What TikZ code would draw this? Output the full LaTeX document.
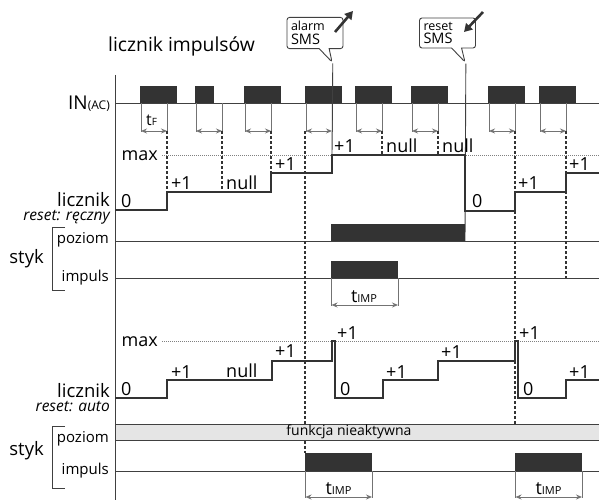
\documentclass[tikz,border=0pt]{standalone}
\usepackage{fontspec}
\setmainfont{Open Sans}
\usetikzlibrary{arrows.meta, shapes.callouts}

\begin{document}
\begin{tikzpicture}[
  x=1pt,
  y=-1pt,
  fs/.style={font=\fontsize{#1}{#1}\selectfont},
  os/.style={line width=0.9pt, draw=black!75},
  puls/.style={fill=black!80},
  licz/.style={line width=2.4pt, draw=black!80, line join=miter},
  kresk/.style={line width=1.1pt, draw=black!80, dash pattern=on 2.5pt off 2.5pt},
  maxlin/.style={line width=0.6pt, draw=black!50, dash pattern=on 1pt off 1pt},
  miara/.style={line width=0.9pt, draw=black!55},
  strz/.style={miara, {Stealth[length=6pt, width=5pt]}-{Stealth[length=6pt, width=5pt]}},
  etyk/.style={fs=18, inner sep=0pt, anchor=base west},
  opis/.style={inner sep=0pt, anchor=base east},
  sms/.style={rectangle callout, draw=black!75, line width=0.9pt, rounded corners=2.5pt,
    minimum width=56pt, minimum height=30pt, text width=48pt, inner sep=4pt,
    align=left, callout pointer width=10pt, font=\fontsize{14.5}{13.5}\selectfont},
  smsarr/.style={line width=2.6pt, draw=black!80, -{Triangle[length=8pt, width=9pt]}},
]
\useasboundingbox (0,0) rectangle (599,500);

% tytul
\node[fs=19.3, anchor=base west, inner sep=0pt] (tytul) at (108,52) {licznik impulsów};

% os czasu i linie sygnalow
\draw[os] (115,75) -- (115,500);
\draw[os] (115,103) -- (599,103);
\draw[os] (115,241) -- (599,241);
\draw[os] (115,278) -- (599,278);
\draw[os] (115,471) -- (599,471);

% wejscie IN(AC)
\foreach \a/\b in {140/177,195/214,244/281,305/342,355/392,411/448,488/525,539/576}
  \fill[puls] (\a,86) rectangle (\b,103);
\foreach \a in {140,195,244,305,355,411,488,539} {
  \draw[miara] (\a+1,103) -- (\a+1,132) (\a+27,103) -- (\a+27,132);
  \draw[strz] (\a+1,131) -- (\a+27,131);
}
\node[fs=16, anchor=base west, inner sep=0pt] (tf) at (146,125) {t{\fontsize{10}{10}\selectfont F}};

% linie pomocnicze
\foreach \x/\k in {167/192,222/192,271/173,305/453,382/155,438/155,515/424,566/278}
  \draw[kresk] (\x,131) -- (\x,\k);

% SMS
\node[sms, callout absolute pointer={(332,62)}] (alarm) at (315,33)
  {{\fontsize{12.5}{12.5}\selectfont alarm}\\SMS};
\node[sms, callout absolute pointer={(465,62)}] (reset) at (447.5,33)
  {{\fontsize{12.5}{12.5}\selectfont reset}\\SMS};
\draw[smsarr] (335,32) -- (353,11);
\draw[smsarr] (483,12) -- (464,32);
\draw[os] (alarm.pointer) -- (332,155);
\draw[os] (reset.pointer) -- (465,241);

% licznik, reset reczny
\draw[maxlin] (162,155) -- (599,155);
\draw[licz] (115,210) -- (167,210) -- (167,192) -- (271,192) -- (271,173) -- (332,173)
  -- (332,155) -- (465,155) -- (465,211) -- (515,211) -- (515,192) -- (566,192)
  -- (566,173) -- (599,173);
\node[etyk, anchor=base east] (maxA) at (158,160) {max};
\foreach \x/\y/\t [count=\i] in {121/207/0, 171/189/+1, 226/189/null, 275/170/+1,
    334/152/+1, 386/152/null, 442/152/null, 472/207/0, 518/189/+1, 569/170/+1}
  \node[etyk] (gA\i) at (\x,\y) {\t};

% styk, reset reczny
\fill[puls] (331,224) rectangle (465,241);
\fill[puls] (331,261) rectangle (398,278);
\draw[miara] (331.5,278) -- (331.5,306) (398,278) -- (398,306);
\draw[strz] (331.5,305) -- (398,305);
\node[fs=18, anchor=base, inner sep=0pt] (timpA) at (364,302) {t{\fontsize{11}{11}\selectfont IMP}};

% licznik, reset auto
\draw[maxlin] (162,341) -- (599,341);
\draw[licz] (115,398) -- (167,398) -- (167,380) -- (272,380) -- (272,361) -- (332,361)
  -- (332,341) -- (335,341) -- (335,398) -- (383,398) -- (383,380) -- (438,380)
  -- (438,361) -- (515,361) -- (515,341) -- (518,341) -- (518,398) -- (566,398)
  -- (566,380) -- (599,380);
\node[etyk, anchor=base east] (maxB) at (158,346) {max};
\foreach \x/\y/\t [count=\i] in {121/395/0, 171/378/+1, 226/377/null, 275/357/+1,
    337/339/+1, 340/395/0, 386/378/+1, 441/358/+1, 519/339/+1, 523/395/0, 569/378/+1}
  \node[etyk] (gB\i) at (\x,\y) {\t};

% styk, reset auto
\draw[os, fill=black!10] (115,424) rectangle (599,440);
\node[fs=14, inner sep=0pt] (nieakt) at (349,432) {funkcja nieaktywna};
\foreach \a/\b in {305/372,515/582} {
  \fill[puls] (\a,453) rectangle (\b,471);
  \draw[miara] (\a+0.5,471) -- (\a+0.5,498) (\b,471) -- (\b,498);
  \draw[strz] (\a+0.5,497) -- (\b,497);
  \node[fs=18, anchor=base, inner sep=0pt] at ({(\a+\b)/2},494) {t{\fontsize{11}{11}\selectfont IMP}};
}

% opisy z lewej
\node[opis, fs=19] (in) at (110,110) {IN{\fontsize{12}{12}\selectfont(AC)}};
\node[opis, fs=18.5] (liczA) at (110,206) {licznik};
\node[opis, fs=15.5] (resA) at (110,220) {\itshape reset: ręczny};
\node[opis, fs=15] (pozA) at (109,243) {poziom};
\node[opis, fs=15] (impA) at (109,281) {impuls};
\node[fs=18.5, anchor=east, inner sep=0pt] (stykA) at (44,259) {styk};
\draw[os] (65,227) -- (52,227) -- (52,290) -- (65,290);

\node[opis, fs=18.5] (liczB) at (110,397) {licznik};
\node[opis, fs=15.5] (resB) at (110,411) {\itshape reset: auto};
\node[opis, fs=15] (pozB) at (109,442) {poziom};
\node[opis, fs=15] (impB) at (109,474) {impuls};
\node[fs=18.5, anchor=east, inner sep=0pt] (stykB) at (44,451) {styk};
\draw[os] (65,426) -- (52,426) -- (52,488) -- (65,488);

\end{tikzpicture}
\end{document}
